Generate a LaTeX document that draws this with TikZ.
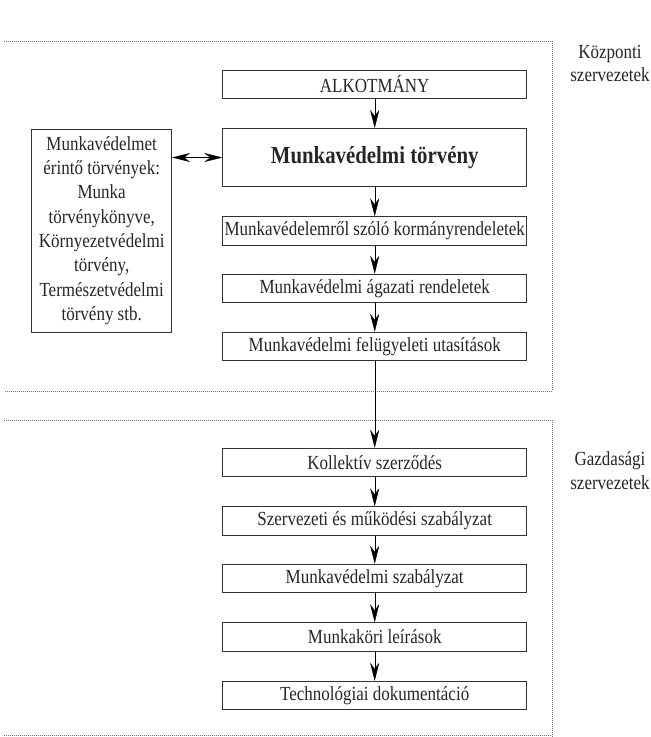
\documentclass[tikz,border=0pt]{standalone}
\usepackage{fontspec}
\setmainfont[FakeStretch=0.85]{Liberation Serif}
\usetikzlibrary{arrows.meta}
\begin{document}
\begin{tikzpicture}[x=1pt,y=-1pt,
    >={Stealth[length=18pt,width=9pt,inset=6pt]},
    box/.style={draw=black!80, line width=0.9pt, minimum width=304pt, minimum height=28.5pt,
      inner sep=0pt, text=black!85, font=\fontsize{20}{23}\selectfont},
    region/.style={draw=black!55, line width=0.7pt, dash pattern=on 1pt off 1pt},
    side/.style={align=center, text=black!85, font=\fontsize{20}{23.5}\selectfont}]
            \useasboundingbox (0,0) rectangle (651,737);
            % kozponti es gazdasagi szervezetek
            \draw[region] (4,41) -- (552,41) -- (552,391) -- (4,391);
            \draw[region] (4,420) -- (552,420) -- (552,737);
            \draw[region] (4,735) -- (552,735);
            \node[side] (K) at (610,63.5){Központi\\szervezetek};
            \node[side] (G) at (610,470.5){Gazdasági\\szervezetek};
            % jogszabalyok
            \node[box] (A) at (374.7,84.5){ALKOTMÁNY};
            \node[box, minimum height=58pt, font=\fontsize{24.5}{28}\selectfont\bfseries] (B) at (374.7,157.5){Munkavédelmi törvény};
            \node[box] (C) at (374.7,231){Munkavédelemről szóló kormányrendeletek};
            \node[box] (D) at (374.7,288.5){Munkavédelmi ágazati rendeletek};
            \node[box] (E) at (374.7,346.5){Munkavédelmi felügyeleti utasítások};
            \node[box, minimum width=140pt, minimum height=203pt, align=center,
              font=\fontsize{20}{24.3}\selectfont] (L) at (101.7,230.5){Munkavédelmet\\érintő törvények:\\Munka\\törvénykönyve,\\Környezetvédelmi\\törvény,\\Természetvédelmi\\törvény stb.};
            % belso szabalyzatok
            \node[box] (A1) at (374.7,462.5){Kollektív szerződés};
            \node[box] (B1) at (374.7,521){Szervezeti és működési szabályzat};
            \node[box] (C1) at (374.7,578.5){Munkavédelmi szabályzat};
            \node[box] (D1) at (374.7,637){Munkaköri leírások};
            \node[box] (E1) at (374.7,695.5){Technológiai dokumentáció};
            \draw[->] (A) -- (B);
            \draw[->] (B) -- (C);
            \draw[->] (C) -- (D);
            \draw[->] (D) -- (E);
            \draw[->] (E) -- (A1);
            \draw[->] (A1) -- (B1);
            \draw[->] (B1) -- (C1);
            \draw[->] (C1) -- (D1);
            \draw[->] (D1) -- (E1);
            \draw[<->] (L.east |- B.west) -- (B.west);
        \end{tikzpicture}
\end{document}
